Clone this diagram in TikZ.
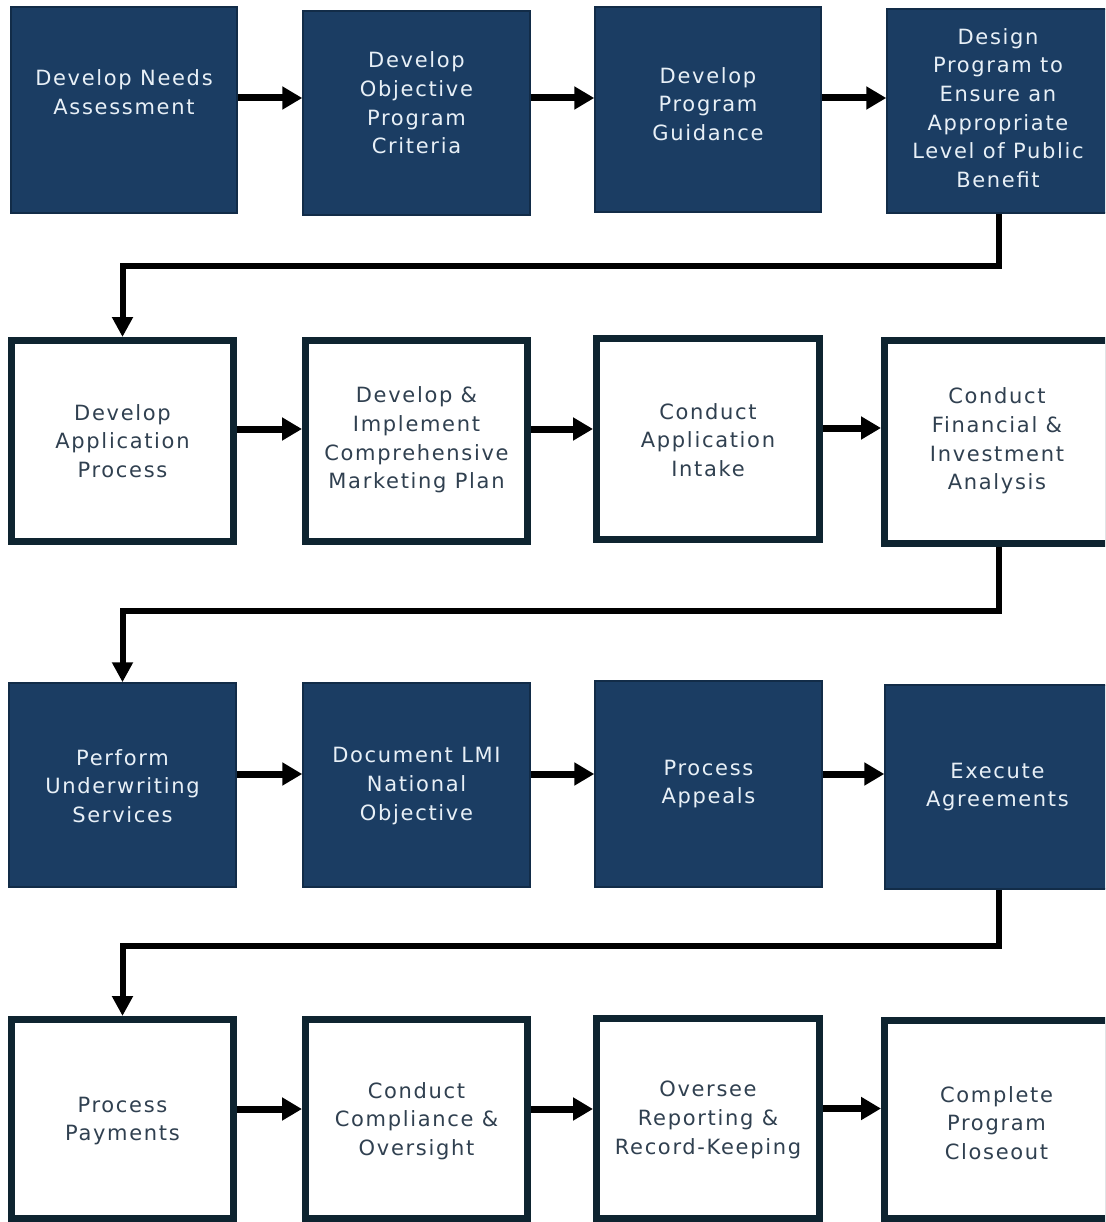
\documentclass[tikz,border=0pt]{standalone}
\usepackage{fontspec}
\setmainfont{DejaVu Sans}[LetterSpace=8]
\usetikzlibrary{arrows.meta}
\definecolor{navy}{RGB}{27,61,99}
\definecolor{navyedge}{RGB}{18,44,72}
\definecolor{frame}{RGB}{14,36,48}
\definecolor{lighttxt}{RGB}{232,240,247}
\definecolor{darktxt}{RGB}{48,64,80}
\tikzset{
  dbox/.style={draw=navyedge, line width=1.5pt, fill=navy, inner sep=0pt},
  wbox/.style={draw=frame, line width=7pt, fill=white, inner sep=0pt},
  dtxt/.style={text=lighttxt, align=center, inner sep=0pt, font=\fontsize{21}{28.7}\selectfont},
  wtxt/.style={text=darktxt, align=center, inner sep=0pt, font=\fontsize{21}{28.7}\selectfont},
  harr/.style={line width=7pt, -{Triangle[length=20pt,width=22pt]}},
  conn/.style={line width=6pt, line join=miter, -{Triangle[length=20pt,width=20pt]}}
}
\begin{document}
\begin{tikzpicture}[x=1pt,y=-1pt]
\path[use as bounding box, clip] (0,0) rectangle (1105,1222);
\fill[white] (0,0) rectangle (1105,1222);
% Row 1
\node[dbox, minimum width=226pt, minimum height=206pt] (a1) at (124,110) {};
\node[dbox, minimum width=227pt, minimum height=204pt] (a2) at (416.5,113) {};
\node[dbox, minimum width=226pt, minimum height=205pt] (a3) at (708,109.5) {};
\node[dbox, minimum width=225pt, minimum height=204pt] (a4) at (999.5,111) {};
\node[dtxt] (a1t) at (124,92) {Develop Needs\\Assessment};
\node[dtxt] (a2t) at (416.5,103) {Develop\\Objective\\Program\\Criteria};
\node[dtxt] (a3t) at (708,104) {Develop\\Program\\Guidance};
\node[dtxt] (a4t) at (998,108) {Design\\Program to\\Ensure an\\Appropriate\\Level of Public\\Benefit};
% Row 2
\node[wbox, minimum width=222pt, minimum height=201pt] (b1) at (122.5,441) {};
\node[wbox, minimum width=222pt, minimum height=201pt] (b2) at (416.5,441) {};
\node[wbox, minimum width=223pt, minimum height=201pt] (b3) at (708,439) {};
\node[wbox, minimum width=224pt, minimum height=203pt] (b4) at (996.5,442) {};
\node[wtxt] (b1t) at (122.5,441) {Develop\\Application\\Process};
\node[wtxt] (b2t) at (416.5,440) {Develop \&\\Implement\\Comprehensive\\Marketing Plan};
\node[wtxt] (b3t) at (708,440) {Conduct\\Application\\Intake};
\node[wtxt] (b4t) at (997,441) {Conduct\\Financial \&\\Investment\\Analysis};
% Row 3
\node[dbox, minimum width=227pt, minimum height=204pt] (c1) at (122.5,785) {};
\node[dbox, minimum width=227pt, minimum height=204pt] (c2) at (416.5,785) {};
\node[dbox, minimum width=227pt, minimum height=206pt] (c3) at (708.5,784) {};
\node[dbox, minimum width=225pt, minimum height=204pt] (c4) at (997.5,787) {};
\node[dtxt] (c1t) at (122.5,786) {Perform\\Underwriting\\Services};
\node[dtxt] (c2t) at (416.5,786) {Document LMI\\National\\Objective};
\node[dtxt] (c3t) at (708.5,784) {Process\\Appeals};
\node[dtxt] (c4t) at (997.5,787) {Execute\\Agreements};
% Row 4
\node[wbox, minimum width=222pt, minimum height=199pt] (d1) at (122.5,1119) {};
\node[wbox, minimum width=222pt, minimum height=199pt] (d2) at (416.5,1119) {};
\node[wbox, minimum width=223pt, minimum height=200pt] (d3) at (708,1118.5) {};
\node[wbox, minimum width=224pt, minimum height=198pt] (d4) at (996.5,1119.5) {};
\node[wtxt] (d1t) at (122.5,1121) {Process\\Payments};
\node[wtxt] (d2t) at (416.5,1121) {Conduct\\Compliance \&\\Oversight};
\node[wtxt] (d3t) at (708,1120) {Oversee\\Reporting \&\\Record-Keeping};
\node[wtxt] (d4t) at (996.5,1123) {Complete\\Program\\Closeout};
% horizontal arrows
\coordinate (pa1) at ([yshift=12pt]a1.east);
\coordinate (pa2) at ([yshift=15pt]a2.east);
\coordinate (pa3) at ([yshift=11.5pt]a3.east);
\draw[harr] (pa1) -- (pa1 -| a2.west);
\draw[harr] (pa2) -- (pa2 -| a3.west);
\draw[harr] (pa3) -- (pa3 -| a4.west);
\coordinate (pb1) at ([yshift=12pt]b1.east);
\coordinate (pb2) at ([yshift=12pt]b2.east);
\coordinate (pb3) at ([yshift=11pt]b3.east);
\draw[harr] (pb1) -- (pb1 -| b2.west);
\draw[harr] (pb2) -- (pb2 -| b3.west);
\draw[harr] (pb3) -- (pb3 -| b4.west);
\coordinate (pc1) at ([yshift=11pt]c1.east);
\coordinate (pc2) at ([yshift=11pt]c2.east);
\coordinate (pc3) at ([yshift=10pt]c3.east);
\draw[harr] (pc1) -- (pc1 -| c2.west);
\draw[harr] (pc2) -- (pc2 -| c3.west);
\draw[harr] (pc3) -- (pc3 -| c4.west);
\coordinate (pd1) at ([yshift=10pt]d1.east);
\coordinate (pd2) at ([yshift=10pt]d2.east);
\coordinate (pd3) at ([yshift=10pt]d3.east);
\draw[harr] (pd1) -- (pd1 -| d2.west);
\draw[harr] (pd2) -- (pd2 -| d3.west);
\draw[harr] (pd3) -- (pd3 -| d4.west);
% row connectors
\coordinate (k1) at (999,266);
\coordinate (k2) at (999,611);
\coordinate (k3) at (999,946);
\draw[conn] (a4.south -| k1) -- (k1) -| (b1.north);
\draw[conn] (b4.south -| k2) -- (k2) -| (c1.north);
\draw[conn] (c4.south -| k3) -- (k3) -| (d1.north);
\end{tikzpicture}
\end{document}
